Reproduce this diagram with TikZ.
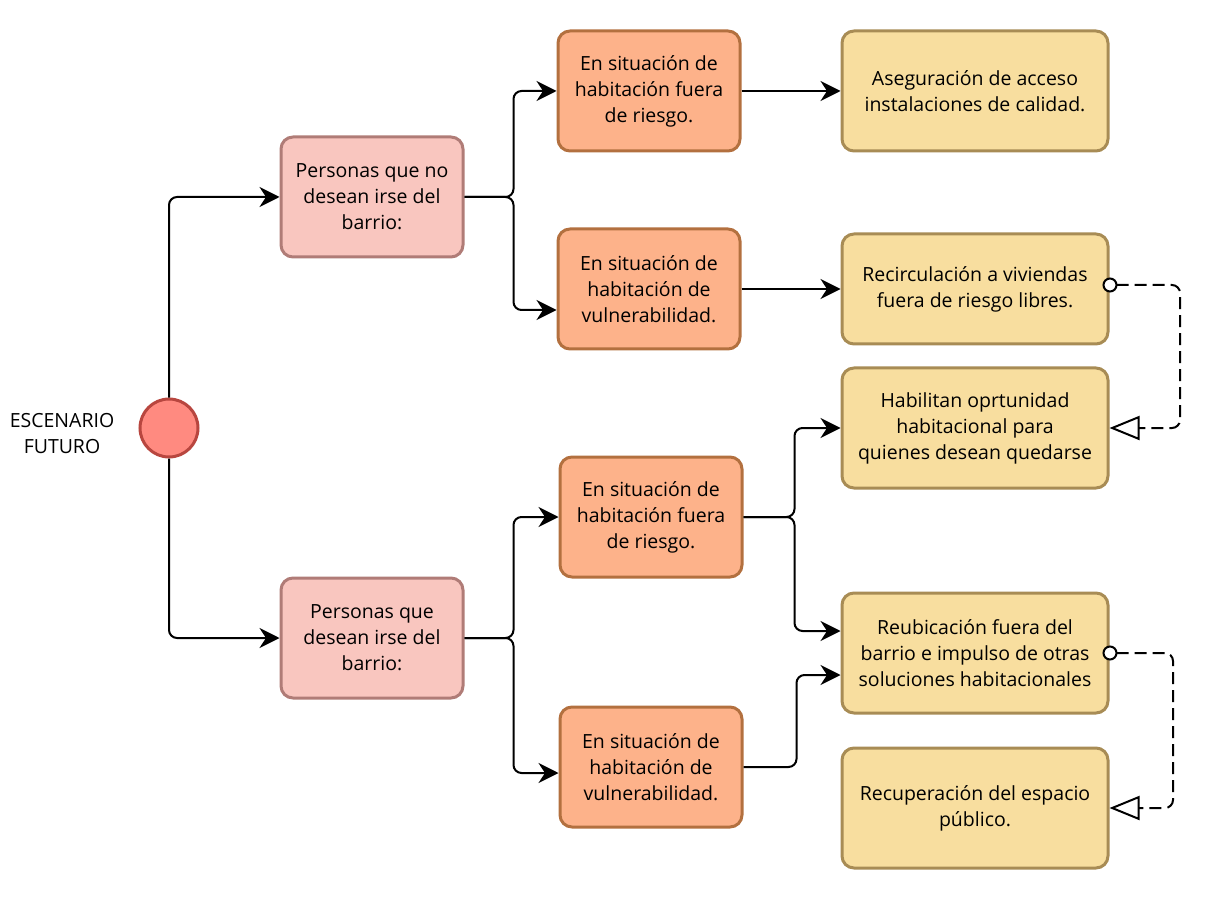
\documentclass[tikz,border=0pt]{standalone}
\usepackage{fontspec}
\setmainfont{Open Sans}
\usepackage{tikz}
\usetikzlibrary{arrows.meta}
\definecolor{startfill}{HTML}{FF8A80}
\definecolor{startedge}{HTML}{B8463F}
\definecolor{personfill}{HTML}{F9C6BF}
\definecolor{personedge}{HTML}{B07C77}
\definecolor{casefill}{HTML}{FDB28A}
\definecolor{caseedge}{HTML}{B3703F}
\definecolor{resultfill}{HTML}{F8DE9F}
\definecolor{resultedge}{HTML}{A88C55}

\begin{document}
\begin{tikzpicture}[x=1pt,y=-1pt,font=\fontsize{19.5}{26}\selectfont,
 personbox/.style={draw=personedge,fill=personfill,line width=3pt,rounded corners=12pt,align=center,minimum width=182pt,minimum height=120pt},
 casebox/.style={draw=caseedge,fill=casefill,line width=3pt,rounded corners=12pt,align=center,minimum width=182pt,minimum height=120pt},
 resultbox/.style={draw=resultedge,fill=resultfill,line width=3pt,rounded corners=12pt,align=center,minimum width=266pt,minimum height=120pt},
 wire/.style={-{Stealth[length=20pt,width=20pt]},line width=2pt,rounded corners=8pt},
 dashwire/.style={{Circle[fill=white,length=15pt]}-{Triangle[open,fill=white,length=30pt,width=24pt]},line width=2pt,dash pattern=on 12pt off 6pt,rounded corners=8pt}]
\useasboundingbox (0,0) rectangle (1232,901);
\node[circle,draw=startedge,fill=startfill,line width=3pt,minimum size=58pt,inner sep=0pt] (start) at (169,428) {};
\node[align=center] (startlabel) at (62,434) {ESCENARIO\\FUTURO};
\node[personbox] (stay) at (372,197) {Personas que no\\desean irse del\\barrio:};
\node[personbox] (leave) at (372,638) {Personas que\\desean irse del\\barrio:};
\node[casebox] (staysafe) at (649,91) {En situación de\\habitación fuera\\de riesgo.};
\node[casebox] (stayrisk) at (649,289) {En situación de\\habitación de\\vulnerabilidad.};
\node[casebox] (leavesafe) at (651,517) {En situación de\\habitación fuera\\de riesgo.};
\node[casebox] (leaverisk) at (651,767) {En situación de\\habitación de\\vulnerabilidad.};
\node[resultbox] (access) at (975,91) {Aseguración de acceso\\instalaciones de calidad.};
\node[resultbox,minimum height=110pt] (recirc) at (975,289) {Recirculación a viviendas\\fuera de riesgo libres.};
\node[resultbox] (chance) at (975,428) {Habilitan oprtunidad\\habitacional para\\quienes desean quedarse};
\node[resultbox] (relocate) at (975,653) {Reubicación fuera del\\barrio e impulso de otras\\soluciones habitacionales};
\node[resultbox] (public) at (975,808) {Recuperación del espacio\\público.};
\draw[wire] (start.north) |- (stay.west);
\draw[wire] (start.south) |- (leave.west);
\draw[wire] (stay.east) -- ++(49,0) |- (staysafe.west);
\draw[wire] (stay.east) -- ++(49,0) |- ([yshift=-21pt]stayrisk.west);
\draw[wire] (staysafe) -- (access);
\draw[wire] (stayrisk) -- (recirc);
\draw[wire] (leave.east) -- ++(49,0) |- (leavesafe.west);
\draw[wire] (leave.east) -- ++(49,0) |- ([yshift=-6pt]leaverisk.west);
\draw[wire] (leavesafe.east) -- ++(51,0) |- (chance.west);
\draw[wire] (leavesafe.east) -- ++(51,0) |- ([yshift=22pt]relocate.west);
\draw[wire] (leaverisk.east) -- ++(53,0) |- ([yshift=-22pt]relocate.west);
\draw[dashwire] ([xshift=-7pt,yshift=4pt]recirc.east) -| (1180,380) |- (chance.east);
\draw[dashwire] ([xshift=-7pt]relocate.east) -| (1173,740) |- (public.east);
\end{tikzpicture}
\end{document}
